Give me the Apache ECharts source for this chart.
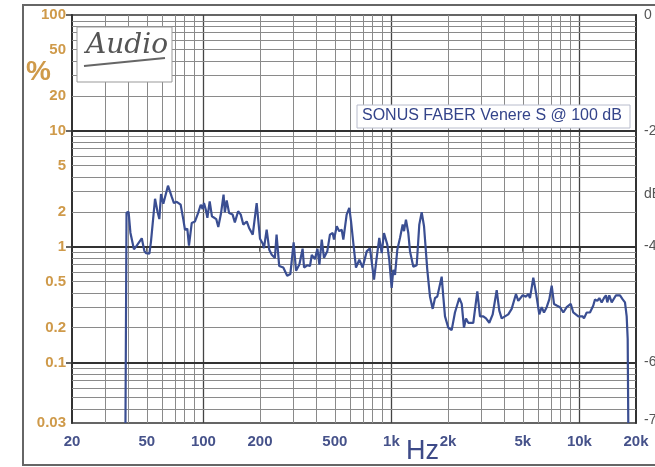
<!DOCTYPE html>
<html>
<head>
<meta charset="utf-8">
<script src="https://cdn.jsdelivr.net/npm/echarts@6/dist/echarts.min.js"></script>
<style>
html,body{margin:0;padding:0;background:#fff;}
#chart{width:655px;height:467px;}
</style>
</head>
<body>
<div id="chart"></div>
<script>
// ---- data (frequency in Hz, level in %) ----
const freqHz = [38.5, 39.0, 40.0, 40.9, 42.7, 44.2, 47.0, 48.5, 49.5, 51.6,
  52.6, 55.3, 57.0, 58.3, 59.5, 61.2, 64.8, 67.8, 69.7, 72.1,
  75.7, 78.2, 79.8, 82.1, 83.8, 86.7, 90.2, 94.0, 96.8, 99.1,
  100.7, 103, 105, 108, 111, 117, 120, 124, 128, 130,
  133, 137, 143, 147, 153, 158, 163, 170, 175, 183,
  192, 200, 207, 210, 217, 224, 231, 240, 245, 253,
  266, 279, 290, 302, 311, 324, 337, 343, 357, 369,
  377, 392, 404, 414, 426, 438, 456, 471, 487, 495,
  512, 528, 544, 555, 578, 597, 610, 627, 648, 675,
  703, 739, 769, 808, 835, 862, 888, 913, 951, 974,
  1003, 1023, 1045, 1075, 1111, 1148, 1167, 1195, 1230, 1256,
  1308, 1363, 1407, 1449, 1491, 1552, 1604, 1658, 1706, 1754,
  1851, 1888, 1928, 2007, 2092, 2178, 2296, 2366, 2432, 2493,
  2564, 2726, 2864, 2960, 3082, 3186, 3317, 3458, 3631, 3749,
  3860, 4018, 4184, 4362, 4598, 4730, 4992, 5197, 5348, 5460,
  5686, 5876, 6118, 6300, 6480, 6698, 6916, 7122, 7327, 7572,
  7885, 8211, 8558, 8989, 9278, 9866, 10412, 10578, 10934, 11384,
  11854, 12102, 12450, 12758, 13138, 13512, 13846, 14072, 14420, 14852,
  15652, 16438, 16992, 17476, 17842, 18064, 18198];
const levelPct = [0.03, 1.96, 2.00, 1.32, 0.95, 1.02, 1.18, 0.92, 0.88, 0.87,
  1.10, 2.59, 2.00, 1.73, 2.84, 2.35, 3.36, 2.70, 2.38, 2.44,
  2.30, 1.71, 1.40, 1.43, 1.02, 1.60, 1.65, 1.98, 2.30, 2.11,
  2.38, 2.08, 1.77, 2.46, 1.83, 1.73, 1.48, 1.93, 2.81, 1.98,
  2.51, 1.95, 1.89, 1.62, 2.02, 1.89, 1.55, 1.65, 1.45, 1.27,
  2.38, 1.17, 1.06, 0.97, 1.40, 0.94, 0.85, 0.80, 1.27, 0.68,
  0.66, 0.56, 0.58, 1.09, 0.62, 0.70, 0.96, 0.66, 0.69, 0.68,
  0.85, 0.78, 0.96, 0.70, 1.15, 0.80, 0.91, 1.27, 1.31, 1.15,
  1.50, 1.36, 1.40, 1.15, 1.89, 2.16, 1.65, 1.08, 0.66, 0.77,
  0.66, 0.91, 0.97, 0.52, 0.80, 1.19, 0.88, 1.31, 1.04, 0.77,
  0.44, 0.63, 0.57, 0.94, 1.19, 1.55, 1.36, 1.71, 1.31, 0.91,
  0.67, 0.69, 1.55, 1.98, 1.50, 0.63, 0.37, 0.29, 0.36, 0.37,
  0.55, 0.37, 0.25, 0.20, 0.19, 0.27, 0.36, 0.32, 0.20, 0.24,
  0.22, 0.22, 0.41, 0.25, 0.25, 0.24, 0.22, 0.26, 0.42, 0.28,
  0.24, 0.25, 0.26, 0.29, 0.39, 0.34, 0.38, 0.37, 0.39, 0.36,
  0.54, 0.40, 0.26, 0.30, 0.27, 0.30, 0.35, 0.46, 0.32, 0.31,
  0.30, 0.27, 0.30, 0.32, 0.27, 0.25, 0.25, 0.24, 0.27, 0.27,
  0.31, 0.35, 0.34, 0.36, 0.33, 0.36, 0.38, 0.33, 0.38, 0.33,
  0.38, 0.38, 0.35, 0.33, 0.25, 0.16, 0.03];

const xMinHz = 20, xMaxHz = 20000;
const yMinPct = 0.03, yMaxPct = 100;
const xTickHz = [20, 50, 100, 200, 500, 1000, 2000, 5000, 10000, 20000];
const xTickLabels = ['20', '50', '100', '200', '500', '1k', '2k', '5k', '10k', '20k'];
const yTickPct = [0.03, 0.1, 0.2, 0.5, 1, 2, 5, 10, 20, 50, 100];
const yTickLabels = ['0.03', '0.1', '0.2', '0.5', '1', '2', '5', '10', '20', '50', '100'];
const yMajorPct = [0.1, 1, 10, 100];
const dbTicks = [0, -20, -31, -40, -60, -70];
const dbTickLabels = ['0', '-20', 'dB', '-40', '-60', '-70'];
const titleText = 'SONUS FABER Venere S @ 100 dB';

// ---- build ----
const L = Math.log10;
const lineData = freqHz.map((f, i) => [L(f), L(levelPct[i])]);

function pick(vals, labels) {
  return function (v) {
    for (let i = 0; i < vals.length; i++) if (Math.abs(vals[i] - v) < 1e-6) return labels[i];
    return '';
  };
}

// log grid lines
const vGrid = [], hGrid = [];
[10, 100, 1000, 10000].forEach(d => {
  for (let m = 1; m <= 9; m++) {
    const f = m * d;
    if (f > xMinHz + 1e-9 && f < xMaxHz - 1e-9) {
      const major = m === 1;
      vGrid.push({ xAxis: L(f), lineStyle: { color: major ? '#444' : '#8a8a8a', width: major ? 1.3 : 1, type: 'solid' } });
    }
  }
});
[0.01, 0.1, 1, 10].forEach(d => {
  for (let m = 1; m <= 9; m++) {
    const v = m * d;
    if (v > yMinPct + 1e-9 && v < yMaxPct - 1e-9) {
      const major = yMajorPct.some(p => Math.abs(p - v) < 1e-9);
      hGrid.push({ yAxis: L(v), lineStyle: { color: major ? '#333' : '#8a8a8a', width: major ? 2 : 1, type: 'solid' } });
    }
  }
});

const orange = '#cf9a4a';
const navy = '#46528a';

const chart = echarts.init(document.getElementById('chart'), null, { renderer: 'canvas' });
chart.setOption({
  animation: false,
  backgroundColor: '#fff',
  grid: { left: 72, top: 15, width: 564, height: 408, show: true, borderColor: '#333', borderWidth: 1.5, backgroundColor: 'transparent', outerBoundsMode: 'none', containLabel: false },
  xAxis: {
    type: 'value', min: L(xMinHz), max: L(xMaxHz),
    axisLine: { show: true, lineStyle: { color: '#333', width: 2 } },
    axisTick: { show: true, customValues: xTickHz.map(L), length: 5, inside: false, lineStyle: { color: '#333', width: 1.5 } },
    axisLabel: { show: true, customValues: xTickHz.map(L), formatter: pick(xTickHz.map(L), xTickLabels), color: navy, fontSize: 15, fontWeight: 'bold', fontFamily: 'Liberation Sans, Arial, sans-serif', margin: 11 },
    splitLine: { show: false }
  },
  yAxis: [{
    type: 'value', min: L(yMinPct), max: L(yMaxPct), position: 'left',
    axisLine: { show: true, lineStyle: { color: '#333', width: 2 } },
    axisTick: { show: true, customValues: yMajorPct.map(L), length: 6, inside: false, lineStyle: { color: '#333', width: 1.5 } },
    axisLabel: { show: true, customValues: yTickPct.map(L), formatter: pick(yTickPct.map(L), yTickLabels), color: orange, fontSize: 15, fontWeight: 'bold', fontFamily: 'Liberation Sans, Arial, sans-serif', margin: 6 },
    splitLine: { show: false }
  }, {
    type: 'value', min: 20 * (L(yMinPct) - 2), max: 0, position: 'right',
    axisLine: { show: true, lineStyle: { color: '#333', width: 2 } },
    axisTick: { show: false },
    axisLabel: { show: true, customValues: dbTicks, formatter: pick(dbTicks, dbTickLabels), color: '#555', fontSize: 14, fontFamily: 'Liberation Sans, Arial, sans-serif', margin: 8 },
    splitLine: { show: false }
  }],
  series: [{
    type: 'line', name: 'grid', data: [], silent: true, z: 1,
    markLine: { silent: true, symbol: 'none', label: { show: false }, animation: false, data: vGrid.concat(hGrid) }
  }, {
    type: 'line', name: titleText, data: lineData, showSymbol: false, z: 5,
    lineStyle: { color: '#3a4e92', width: 2.2 }, itemStyle: { color: '#3a4e92' }
  }],
  graphic: [
    { type: 'rect', shape: { x: 23, y: 5, width: 660, height: 460 }, style: { fill: 'none', stroke: '#666', lineWidth: 2 }, z: 0, silent: true },
    { type: 'text', left: 26, top: 58, style: { text: '%', fill: orange, font: 'bold 28px "Liberation Sans", Arial, sans-serif' }, z: 10 },
    { type: 'text', left: 406, top: 438, style: { text: 'Hz', fill: '#3d4a88', font: '27px "Liberation Sans", Arial, sans-serif' }, z: 10 },
    { type: 'rect', shape: { x: 77, y: 27, width: 95, height: 55 }, style: { fill: '#fff', stroke: '#999', lineWidth: 1 }, z: 8 },
    { type: 'text', left: 86, top: 32, style: { text: 'Audio', fill: '#555', font: 'italic 28px "DejaVu Serif", serif' }, z: 9 },
    { type: 'line', shape: { x1: 84, y1: 66, x2: 165, y2: 58 }, style: { stroke: '#666', lineWidth: 2 }, z: 9 },
    { type: 'rect', shape: { x: 357, y: 105, width: 273, height: 23 }, style: { fill: '#fff', stroke: '#b8bccc', lineWidth: 1 }, z: 8 },
    { type: 'text', left: 362, top: 108, style: { text: titleText, fill: '#34448a', font: '16px "Liberation Sans", Arial, sans-serif' }, z: 9 }
  ]
});
</script>
</body>
</html>
